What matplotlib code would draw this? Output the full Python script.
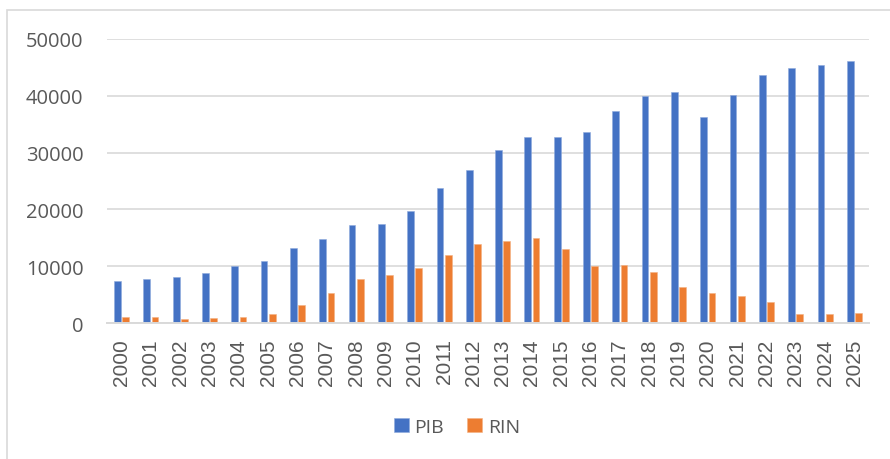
import matplotlib
matplotlib.use("Agg")
import matplotlib.pyplot as plt
from matplotlib.patches import Rectangle
import numpy as np

years = [str(y) for y in range(2000, 2026)]
pib = [7350, 7700, 8050, 8800, 9950, 11000, 13150, 14750, 17250, 17400,
       19800, 23850, 26900, 30450, 32750, 32750, 33700, 37250, 40050, 40600,
       36350, 40150, 43650, 44850, 45400, 46100]
rin = [1000, 1000, 760, 880, 1000, 1650, 3100, 5250, 7700, 8500,
       9650, 11950, 13850, 14400, 15050, 13050, 10050, 10200, 8900, 6400,
       5250, 4700, 3700, 1650, 1650, 1700]
yticks = [0, 10000, 20000, 30000, 40000, 50000]

W, H = 890, 460
fig = plt.figure(figsize=(W / 100, H / 100), dpi=100)
ax = fig.add_axes([107 / W, 1 - 324 / H, (869 - 107) / W, (324 - 40) / H])

x = np.arange(len(years))
bw = 0.23
ax.bar(x - 0.14, pib, width=bw, color="#4472C4", edgecolor="#8FAADC", linewidth=0.4, label="PIB", zorder=3)
ax.bar(x + 0.14, rin, width=bw, color="#ED7D31", edgecolor="#F4B183", linewidth=0.4, label="RIN", zorder=3)

ax.set_xlim(-0.5, len(years) - 0.5)
ax.set_ylim(0, 50000)
ax.set_yticks(yticks)
ax.set_yticklabels([str(v) for v in yticks], fontfamily="Open Sans", fontsize=14.5, color="#595959")
ax.set_xticks(x)
ax.set_xticklabels(years, rotation=90, fontfamily="Liberation Sans", fontsize=15, color="#595959")
ax.tick_params(axis="y", length=0, pad=17)
ax.tick_params(axis="x", length=0, pad=11)
ax.grid(axis="y", color="#D9D9D9", linewidth=1.2, zorder=0)
for s in ["top", "right", "left"]:
    ax.spines[s].set_visible(False)
ax.spines["bottom"].set_color("#D9D9D9")
ax.spines["bottom"].set_linewidth(1.4)
ax.spines["bottom"].set_zorder(4)

leg = fig.legend(loc="center", bbox_to_anchor=(457 / W, 1 - 428 / H), ncol=2, frameon=False,
                 prop={"family": "Open Sans", "size": 14}, handlelength=0.75, handleheight=0.75,
                 handletextpad=0.3, columnspacing=1.2)
for t in leg.get_texts():
    t.set_color("#595959")

fig.patches.append(Rectangle((7 / W, -0.1), 1.2, 1 - 11 / H + 0.1, transform=fig.transFigure,
                             fill=False, edgecolor="#D9D9D9", linewidth=1.2))

fig.savefig("out.png", dpi=100, facecolor="white")
